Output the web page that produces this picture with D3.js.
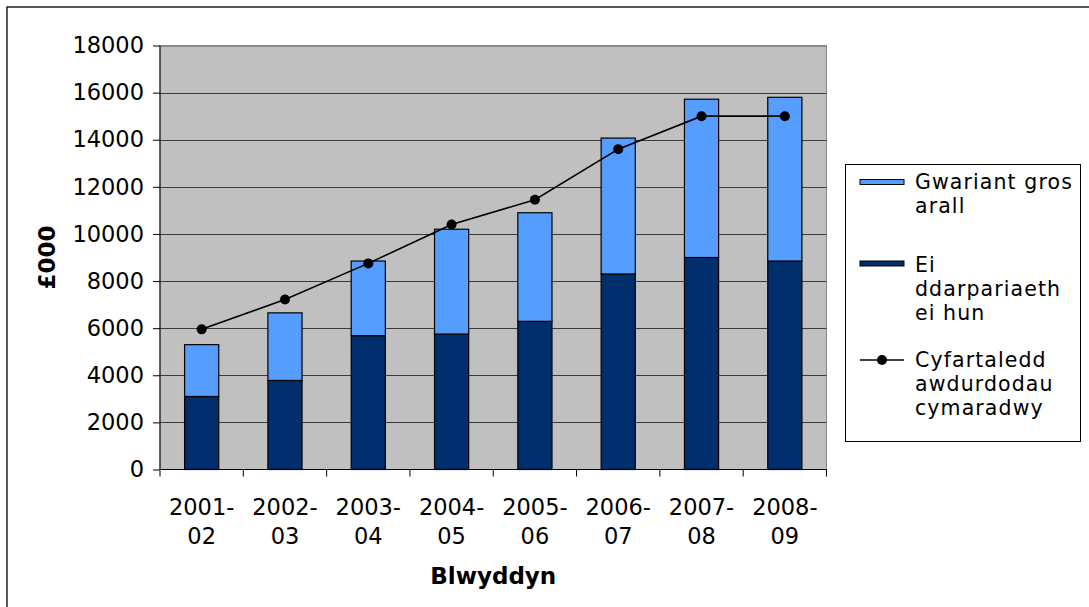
<!DOCTYPE html>
<html>
<head>
<meta charset="utf-8">
<script src="https://cdn.jsdelivr.net/npm/d3@7/dist/d3.min.js"></script>
<style>
  html, body { margin: 0; padding: 0; background: #fff; }
  svg { display: block; font-family: Verdana, "DejaVu Sans", sans-serif; }
</style>
</head>
<body>
<svg id="chart" width="1089" height="607"></svg>
<script>
// ---- data ----
const categories = ["2001-02", "2002-03", "2003-04", "2004-05", "2005-06", "2006-07", "2007-08", "2008-09"];
const ownProvision = [3100, 3780, 5680, 5750, 6290, 8300, 9000, 8850];     // Ei ddarpariaeth ei hun
const otherGross   = [2200, 2870, 3170, 4450, 4610, 5770, 6720, 6950];     // Gwariant gros arall
const comparableAvg = [5950, 7220, 8750, 10400, 11450, 13600, 15000, 15000]; // Cyfartaledd awdurdodau cymaradwy
const yTicks = [0, 2000, 4000, 6000, 8000, 10000, 12000, 14000, 16000, 18000];
const seriesNames = ["Gwariant gros arall", "Ei ddarpariaeth ei hun", "Cyfartaledd awdurdodau cymaradwy"];
const legendLines = [["Gwariant gros", "arall"], ["Ei", "ddarpariaeth", "ei hun"], ["Cyfartaledd", "awdurdodau", "cymaradwy"]];
const yTitle = "£000";
const xTitle = "Blwyddyn";

// ---- layout ----
const svg = d3.select("#chart");
const plot = { left: 160, top: 45.5, right: 826.5, bottom: 469.5 };
const colLight = "#559EFF";
const colDark = "#002D6B";
const fontSize = 22.5;
const textSize = 23;
const legendSize = 20.5;

// outer border
svg.append("rect").attr("x", 7).attr("y", 7).attr("width", 1100).attr("height", 700)
  .attr("fill", "#fff").attr("stroke", "#000").attr("stroke-width", 1.3);

const x = d3.scaleBand().domain(categories).range([plot.left, plot.right])
  .paddingInner(0.59).paddingOuter(0.295);
const y = d3.scaleLinear().domain([0, 18000]).range([plot.bottom, plot.top]);

// plot background
svg.append("rect").attr("x", plot.left).attr("y", plot.top)
  .attr("width", plot.right - plot.left).attr("height", plot.bottom - plot.top)
  .attr("fill", "#C0C0C0").attr("stroke", "#888").attr("stroke-width", 1);

// gridlines
svg.append("g").selectAll("line").data(yTicks.filter(d => d > 0)).join("line")
  .attr("x1", plot.left).attr("x2", plot.right)
  .attr("y1", d => Math.round(y(d)) + 0.5).attr("y2", d => Math.round(y(d)) + 0.5)
  .attr("stroke", d => d === 18000 ? "#888" : "#3a3a3a").attr("stroke-width", 1);

// stacked bars
const stackData = categories.map((c, i) => ({ cat: c, own: ownProvision[i], other: otherGross[i] }));
const stack = d3.stack().keys(["own", "other"])(stackData);
const colors = { own: colDark, other: colLight };
svg.append("g").selectAll("g").data(stack).join("g")
  .attr("fill", d => colors[d.key])
  .selectAll("rect").data(d => d).join("rect")
  .attr("x", d => x(d.data.cat))
  .attr("width", x.bandwidth())
  .attr("y", d => y(d[1]))
  .attr("height", d => y(d[0]) - y(d[1]))
  .attr("stroke", "#000").attr("stroke-width", 1.2);

// line series
const cx = d => x(d) + x.bandwidth() / 2;
const line = d3.line().x((d, i) => cx(categories[i])).y(d => y(d));
svg.append("path").datum(comparableAvg).attr("d", line)
  .attr("fill", "none").attr("stroke", "#000").attr("stroke-width", 1.6);
svg.append("g").selectAll("circle").data(comparableAvg).join("circle")
  .attr("cx", (d, i) => cx(categories[i])).attr("cy", d => y(d)).attr("r", 5).attr("fill", "#000");

// y axis
const yAxis = d3.axisLeft(y).tickValues(yTicks).tickSize(7).tickPadding(9).tickFormat(d3.format("d"));
const gy = svg.append("g").attr("transform", `translate(${plot.left},0)`).call(yAxis);
gy.select(".domain").attr("stroke", "#000").attr("d", `M0,${plot.top}V${plot.bottom}`);
gy.selectAll(".tick line").attr("stroke", "#000");
gy.selectAll("text").attr("font-size", fontSize).attr("fill", "#000")
  .attr("font-family", 'Verdana, "DejaVu Sans", sans-serif');

// x axis (ticks at category boundaries)
const gx = svg.append("g").attr("transform", `translate(0,${plot.bottom})`);
gx.append("line").attr("x1", plot.left).attr("x2", plot.right).attr("y1", 0).attr("y2", 0).attr("stroke", "#000");
const bounds = categories.map(c => x(c) - x.step() * x.paddingInner() / 2).concat([plot.right]);
gx.selectAll("line.tk").data(bounds).join("line").attr("class", "tk")
  .attr("x1", d => d).attr("x2", d => d).attr("y1", 0).attr("y2", 7).attr("stroke", "#000");
const labels = gx.selectAll("text.lbl").data(categories).join("text").attr("class", "lbl")
  .attr("text-anchor", "middle").attr("font-size", fontSize).attr("fill", "#000");
labels.each(function(d) {
  const parts = d.split("-");
  const t = d3.select(this);
  t.append("tspan").attr("x", cx(d)).attr("y", 45).text(parts[0] + "-");
  t.append("tspan").attr("x", cx(d)).attr("y", 74).text(parts[1]);
});

// axis titles
svg.append("text").attr("transform", `translate(55,${(plot.top + plot.bottom) / 2}) rotate(-90)`)
  .attr("text-anchor", "middle").attr("font-size", textSize).attr("font-weight", "bold").text(yTitle);
svg.append("text").attr("x", (plot.left + plot.right) / 2).attr("y", 584)
  .attr("text-anchor", "middle").attr("font-size", textSize).attr("font-weight", "bold").text(xTitle);

// legend
const lg = svg.append("g");
lg.append("rect").attr("x", 845.5).attr("y", 164.5).attr("width", 235).attr("height", 277)
  .attr("fill", "#fff").attr("stroke", "#000").attr("stroke-width", 1);
const legendY = [181, 264, 359];
const textX = 915;
const lineH = 24;
// swatches
lg.append("rect").attr("x", 860).attr("y", 182 - 2.5).attr("width", 44).attr("height", 5)
  .attr("fill", colLight).attr("stroke", "#000").attr("stroke-width", 1);
lg.append("rect").attr("x", 860).attr("y", 263.5 - 2.5).attr("width", 44).attr("height", 5)
  .attr("fill", colDark).attr("stroke", "#000").attr("stroke-width", 1);
lg.append("line").attr("x1", 860).attr("x2", 904).attr("y1", 360).attr("y2", 360)
  .attr("stroke", "#000").attr("stroke-width", 1.6);
lg.append("circle").attr("cx", 882).attr("cy", 360).attr("r", 5).attr("fill", "#000");
legendLines.forEach((lines, k) => {
  const t = lg.append("text").attr("font-size", legendSize).attr("letter-spacing", 1.1).attr("fill", "#000");
  lines.forEach((ln, j) => {
    t.append("tspan").attr("x", textX).attr("y", legendY[k] + 7.5 + j * lineH).text(ln);
  });
});
</script>
</body>
</html>
